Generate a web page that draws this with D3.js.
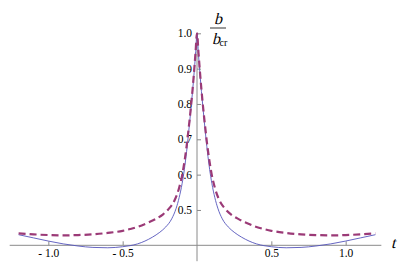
<!DOCTYPE html>
<html>
<head>
<meta charset="utf-8">
<script src="https://cdn.jsdelivr.net/npm/d3@7/dist/d3.min.js"></script>
<style>
html,body{margin:0;padding:0;background:#fff;}
svg{display:block;}
</style>
</head>
<body>
<svg id="chart" width="409" height="273"></svg>
<script>
// ---- data ----
const tSolid = [-1.2,-1.1,-1.0,-0.9,-0.8,-0.7,-0.6,-0.5,-0.45,-0.4,-0.35,-0.3,-0.25,-0.21,-0.17,-0.14,-0.12,-0.10,-0.085,-0.07,-0.055,-0.04,-0.03,-0.02,-0.01,0,
                0.01,0.02,0.03,0.04,0.055,0.07,0.085,0.10,0.12,0.14,0.17,0.21,0.25,0.3,0.35,0.4,0.45,0.5,0.6,0.7,0.8,0.9,1.0,1.1,1.2];
const solidValues = [0.430,0.421,0.412,0.404,0.398,0.394,0.393,0.396,0.399,0.404,0.412,0.423,0.437,0.452,0.475,0.505,0.535,0.575,0.615,0.665,0.725,0.790,0.835,0.885,0.940,1.0,
                0.940,0.885,0.835,0.790,0.725,0.665,0.615,0.575,0.535,0.505,0.475,0.452,0.437,0.423,0.412,0.404,0.399,0.396,0.393,0.394,0.398,0.404,0.412,0.421,0.430];
const tDashed = [-1.2,-1.1,-1.0,-0.9,-0.8,-0.7,-0.6,-0.5,-0.45,-0.4,-0.33,-0.28,-0.23,-0.19,-0.15,-0.12,-0.10,-0.085,-0.07,-0.055,-0.04,-0.03,-0.02,-0.01,0,
                0.01,0.02,0.03,0.04,0.055,0.07,0.085,0.10,0.12,0.15,0.19,0.23,0.28,0.33,0.4,0.45,0.5,0.6,0.7,0.8,0.9,1.0,1.1,1.2];
const dashedValues = [0.434,0.431,0.429,0.428,0.429,0.431,0.435,0.441,0.446,0.452,0.464,0.474,0.487,0.503,0.528,0.563,0.598,0.635,0.680,0.735,0.795,0.840,0.890,0.945,1.0,
                0.945,0.890,0.840,0.795,0.735,0.680,0.635,0.598,0.563,0.528,0.503,0.487,0.474,0.464,0.452,0.446,0.441,0.435,0.431,0.429,0.428,0.429,0.431,0.434];
const xTicks = [-1.0,-0.5,0.5,1.0];
const yTicks = [0.5,0.6,0.7,0.8,0.9,1.0];
const xTickLabels = ["- 1.0","- 0.5","0.5","1.0"];
const yTickLabels = ["0.5","0.6","0.7","0.8","0.9","1.0"];

// ---- scales ----
const svg = d3.select("#chart");
const serif = "Liberation Serif";
const x = d3.scaleLinear().domain([-1.2, 1.2]).range([18.6, 375.4]);
const y = d3.scaleLinear().domain([0.4, 1.0]).range([245.3, 33.3]);
const axisColor = "#8a8a8a";

// axes lines
svg.append("line").attr("x1", x(-1.26)).attr("x2", x(1.24))
  .attr("y1", y(0.4)).attr("y2", y(0.4)).attr("stroke", axisColor).attr("stroke-width", 1);
svg.append("line").attr("x1", x(0)).attr("x2", x(0))
  .attr("y1", y(1.0)).attr("y2", y(0.355)).attr("stroke", axisColor).attr("stroke-width", 1);

// x axis ticks
const xAxis = d3.axisBottom(x).tickValues(xTicks).tickSizeInner(-4).tickSizeOuter(0).tickPadding(4)
  .tickFormat((d,i) => xTickLabels[i]);
const gx = svg.append("g").attr("transform", `translate(0,${y(0.4)})`).call(xAxis);
gx.attr("font-family", serif).attr("font-size", 11.5);
gx.select(".domain").remove();
gx.selectAll(".tick line").attr("stroke", axisColor);
gx.selectAll(".tick text").attr("fill", "#000");

// y axis ticks
const yAxis = d3.axisLeft(y).tickValues(yTicks).tickSizeInner(-4).tickSizeOuter(0).tickPadding(5)
  .tickFormat((d,i) => yTickLabels[i]);
const gy = svg.append("g").attr("transform", `translate(${x(0)},0)`).call(yAxis);
gy.attr("font-family", serif).attr("font-size", 11.5);
gy.select(".domain").remove();
gy.selectAll(".tick line").attr("stroke", axisColor);
gy.selectAll(".tick text").attr("fill", "#000");

// curves
const line = d3.line().x(d => x(d[0])).y(d => y(d[1])).curve(d3.curveMonotoneX);
svg.append("path").datum(tSolid.map((t,i) => [t, solidValues[i]]))
  .attr("d", line).attr("fill", "none").attr("stroke", "#5555bb").attr("stroke-width", 0.9);
svg.append("path").datum(tDashed.map((t,i) => [t, dashedValues[i]]))
  .attr("d", line).attr("fill", "none").attr("stroke", "#9b3a77").attr("stroke-width", 2.2)
  .attr("stroke-dasharray", "7,4");

// axis labels (upright serif, slanted to imitate italics)
function italic(px, py, txt, size) {
  return svg.append("text").attr("transform", `translate(${px},${py}) skewX(-14)`)
    .attr("font-family", serif).attr("font-size", size).text(txt);
}
italic(218, 23.5, "b", 16).attr("text-anchor", "middle");
svg.append("line").attr("x1", 210).attr("x2", 226).attr("y1", 28).attr("y2", 28)
  .attr("stroke", "#000").attr("stroke-width", 0.8);
italic(212, 43.5, "b", 16);
svg.append("text").attr("x", 219.5).attr("y", 45.5).attr("font-family", serif).attr("font-size", 10).text("cr");
italic(391, 248, "t", 16);
</script>
</body>
</html>
